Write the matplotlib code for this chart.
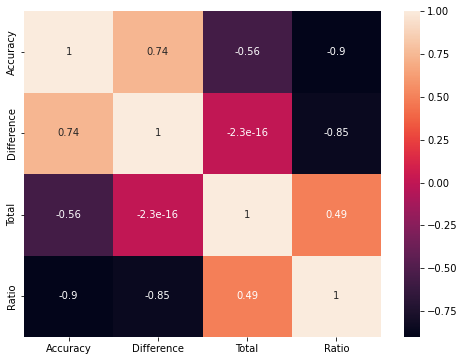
import matplotlib
matplotlib.use("Agg")
import matplotlib.pyplot as plt
import seaborn as sns
import numpy as np
import pandas as pd

labels = ["Accuracy", "Difference", "Total", "Ratio"]
row_accuracy = [1.0, 0.74, -0.56, -0.9]
row_difference = [0.74, 1.0, -2.3e-16, -0.85]
row_total = [-0.56, -2.3e-16, 1.0, 0.49]
row_ratio = [-0.9, -0.85, 0.49, 1.0]

corr = pd.DataFrame([row_accuracy, row_difference, row_total, row_ratio],
                    index=labels, columns=labels)

fig = plt.figure(figsize=(464/72, 361/72), dpi=72)
ax = fig.add_axes([24/464, 1-337/361, (381-24)/464, (337-11)/361])
cax = fig.add_axes([404/464, 1-337/361, 16/464, (337-11)/361])
sns.heatmap(corr, annot=True, ax=ax, cbar_ax=cax)
fig.savefig("out.png", dpi=72)
